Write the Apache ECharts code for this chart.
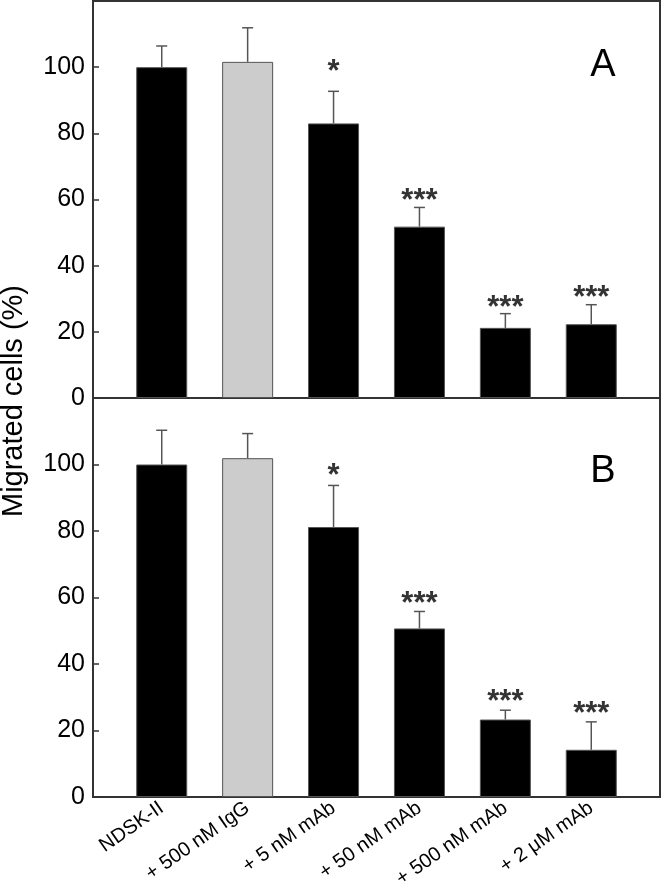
<!DOCTYPE html>
<html>
<head>
<meta charset="utf-8">
<script src="https://cdn.jsdelivr.net/npm/echarts@6/dist/echarts.min.js"></script>
<style>
html,body{margin:0;padding:0;background:#fff;}
#chart{width:663px;height:889px;}
</style>
</head>
<body>
<div id="chart"></div>
<script>
// ---- data ----
var categories = ['NDSK-II', '+ 500 nM IgG', '+ 5 nM mAb', '+ 50 nM mAb', '+ 500 nM mAb', '+ 2 \u03bcM mAb'];
var valuesA = [100, 101.6, 83.0, 51.8, 21.2, 22.3];
var errorsA = [6.4, 10.3, 9.7, 5.8, 4.3, 5.9];
var valuesB = [100, 101.9, 81.2, 50.7, 23.3, 14.2];
var errorsB = [10.3, 7.4, 12.5, 5.1, 2.8, 8.4];
var significance = ['', '', '*', '***', '***', '***'];
var starA = [null, null, 100.4, 61.6, 29.3, 32.3];
var starB = [null, null, 98.5, 59.9, 30.4, 27.0];
var yTicks = [0, 20, 40, 60, 80, 100];
var xTicks = [0, 1, 2, 3, 4, 5];
var barColors = ['#000000', '#cccccc', '#000000', '#000000', '#000000', '#000000'];

var FONT = 'Liberation Sans, Arial, Helvetica, sans-serif';

function barData(vals) {
  return vals.map(function (v, i) {
    return { value: [i, v], itemStyle: { color: barColors[i] } };
  });
}
function errData(vals, errs) {
  return vals.map(function (v, i) { return [i, v, errs[i]]; });
}
function starData(ys) {
  var out = [];
  ys.forEach(function (y, i) { if (y !== null) out.push({ value: [i, y], label: { formatter: significance[i] } }); });
  return out;
}
function renderErr(params, api) {
  var x = api.value(0), v = api.value(1), e = api.value(2);
  var p0 = api.coord([x, v]);
  var p1 = api.coord([x, v + e]);
  var st = { stroke: '#555', lineWidth: 1.5 };
  return {
    type: 'group',
    children: [
      { type: 'line', shape: { x1: p0[0], y1: p0[1], x2: p1[0], y2: p1[1] }, style: st },
      { type: 'line', shape: { x1: p1[0] - 5.5, y1: p1[1], x2: p1[0] + 5.5, y2: p1[1] }, style: st }
    ]
  };
}

function xAxisDef(gridIndex, showLabels) {
  return {
    type: 'value', gridIndex: gridIndex, min: -0.8, max: 5.8,
    splitLine: { show: false },
    axisTick: { show: false },
    axisLine: { show: true, onZero: false, lineStyle: { color: '#333', width: 2 } },
    axisLabel: showLabels ? {
      show: true, customValues: xTicks, rotate: 35, margin: 9,
      fontFamily: FONT, fontSize: 20, color: '#000',
      formatter: function (v) { return categories[Math.round(v)]; }
    } : { show: false }
  };
}
function yAxisDef(gridIndex) {
  return {
    type: 'value', gridIndex: gridIndex, min: 0, max: 120, interval: 20,
    splitLine: { show: false },
    axisLine: { show: true, onZero: false, lineStyle: { color: '#333', width: 2 } },
    axisTick: { show: true, inside: true, length: 6, customValues: yTicks, lineStyle: { color: '#333', width: 1.5 } },
    axisLabel: { show: true, customValues: yTicks, margin: 8, fontFamily: FONT, fontSize: 25, color: '#000' }
  };
}

function panelSeries(idx, vals, errs, stars) {
  return [
    {
      type: 'custom', xAxisIndex: idx, yAxisIndex: idx, renderItem: renderErr,
      data: errData(vals, errs), z: 1, silent: true
    },
    {
      type: 'bar', xAxisIndex: idx, yAxisIndex: idx, barWidth: 51,
      data: barData(vals), z: 2, silent: true,
      itemStyle: { borderColor: '#555', borderWidth: 1 }
    },
    {
      type: 'scatter', xAxisIndex: idx, yAxisIndex: idx, symbolSize: 0,
      data: starData(stars), z: 3, silent: true,
      label: { show: true, position: 'inside', offset: [0, 7], fontFamily: FONT, fontSize: 31, fontWeight: 'bold', color: '#000' }
    }
  ];
}

var chart = echarts.init(document.getElementById('chart'), null, { renderer: 'canvas' });
chart.setOption({
  animation: false,
  backgroundColor: '#fff',
  grid: [
    { left: 93, right: 3, top: 1, height: 397, show: true, borderColor: '#333', borderWidth: 2, containLabel: false, outerBoundsMode: 'none' },
    { left: 93, right: 3, top: 398, bottom: 92, show: true, borderColor: '#333', borderWidth: 2, containLabel: false, outerBoundsMode: 'none' }
  ],
  xAxis: [xAxisDef(0, false), xAxisDef(1, true)],
  yAxis: [yAxisDef(0), yAxisDef(1)],
  graphic: [
    { type: 'text', x: 14, y: 401, rotation: Math.PI / 2,
      style: { text: 'Migrated cells (%)', font: '29px ' + FONT, fill: '#000', textAlign: 'center', textVerticalAlign: 'middle' } },
    { type: 'text', x: 603, y: 66,
      style: { text: 'A', font: '38px ' + FONT, fill: '#000', textAlign: 'center', textVerticalAlign: 'middle' } },
    { type: 'text', x: 603, y: 472,
      style: { text: 'B', font: '38px ' + FONT, fill: '#000', textAlign: 'center', textVerticalAlign: 'middle' } }
  ],
  series: panelSeries(0, valuesA, errorsA, starA).concat(panelSeries(1, valuesB, errorsB, starB))
});
</script>
</body>
</html>
